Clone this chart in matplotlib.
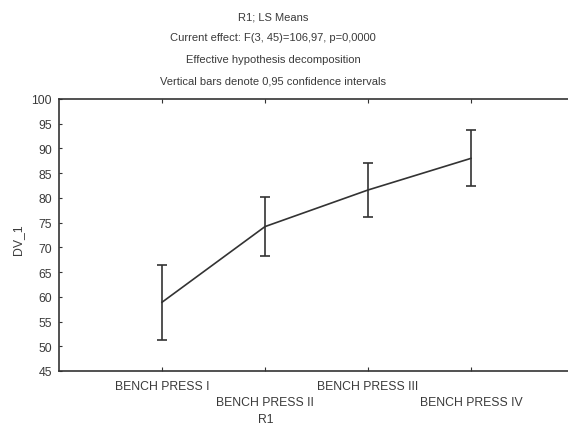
import numpy as np
import matplotlib.pyplot as plt

plt.rcParams['font.family'] = ['Liberation Sans', 'DejaVu Sans']

categories = ['BENCH PRESS I', 'BENCH PRESS II', 'BENCH PRESS III', 'BENCH PRESS IV']
means = [58.9, 74.2, 81.6, 88.0]
ci_half = [7.6, 5.9, 5.45, 5.65]
yticks = [45, 50, 55, 60, 65, 70, 75, 80, 85, 90, 95, 100]

W, H = 568, 435
fig = plt.figure(figsize=(W / 100, H / 100), dpi=100)
ax = fig.add_axes([59 / W, 1 - 372 / H, (W - 59) / W, (372 - 100) / H])

x = np.arange(len(categories))
ax.errorbar(x, means, yerr=ci_half, color='#333333', lw=1.2, elinewidth=1.2,
            capsize=3.8, capthick=1.2)

ax.set_xlim(-1, (W - 59) / 103 - 1)
ax.set_ylim(45, 100)
ax.set_yticks(yticks)
ax.set_xticks(x)
ax.set_xticklabels(['' for c in categories])
for i, c in enumerate(categories):
    off = -0.055 if i % 2 == 0 else -0.115
    ax.text(i, off, c, transform=ax.get_xaxis_transform(), ha='center', va='center',
            fontsize=8.8, color='#3a3a3a')

ax.spines['right'].set_visible(False)
for s in ['top', 'bottom', 'left']:
    ax.spines[s].set_color('#333333')
    ax.spines[s].set_linewidth(1.2)
ax.tick_params(direction='in', length=3, top=True, labelsize=8.8, colors='#333333',
               labelcolor='#3a3a3a', pad=3)
ax.tick_params(axis='y', length=2.5, pad=5)

fig.text(18 / W, 1 - 240 / H, 'DV_1', rotation=90, ha='center', va='center',
         fontsize=8.8, color='#3a3a3a')
fig.text(266 / W, 1 - 420 / H, 'R1', ha='center', va='center', fontsize=8.8,
         color='#3a3a3a')

titles = ['R1; LS Means',
          'Current effect: F(3, 45)=106,97, p=0,0000',
          'Effective hypothesis decomposition',
          'Vertical bars denote 0,95 confidence intervals']
for t, yy in zip(titles, [17, 38, 60, 81]):
    fig.text(273 / W, 1 - yy / H, t, ha='center', va='center', fontsize=8,
             color='#3a3a3a')

fig.savefig('out.png', dpi=100, facecolor='white')
